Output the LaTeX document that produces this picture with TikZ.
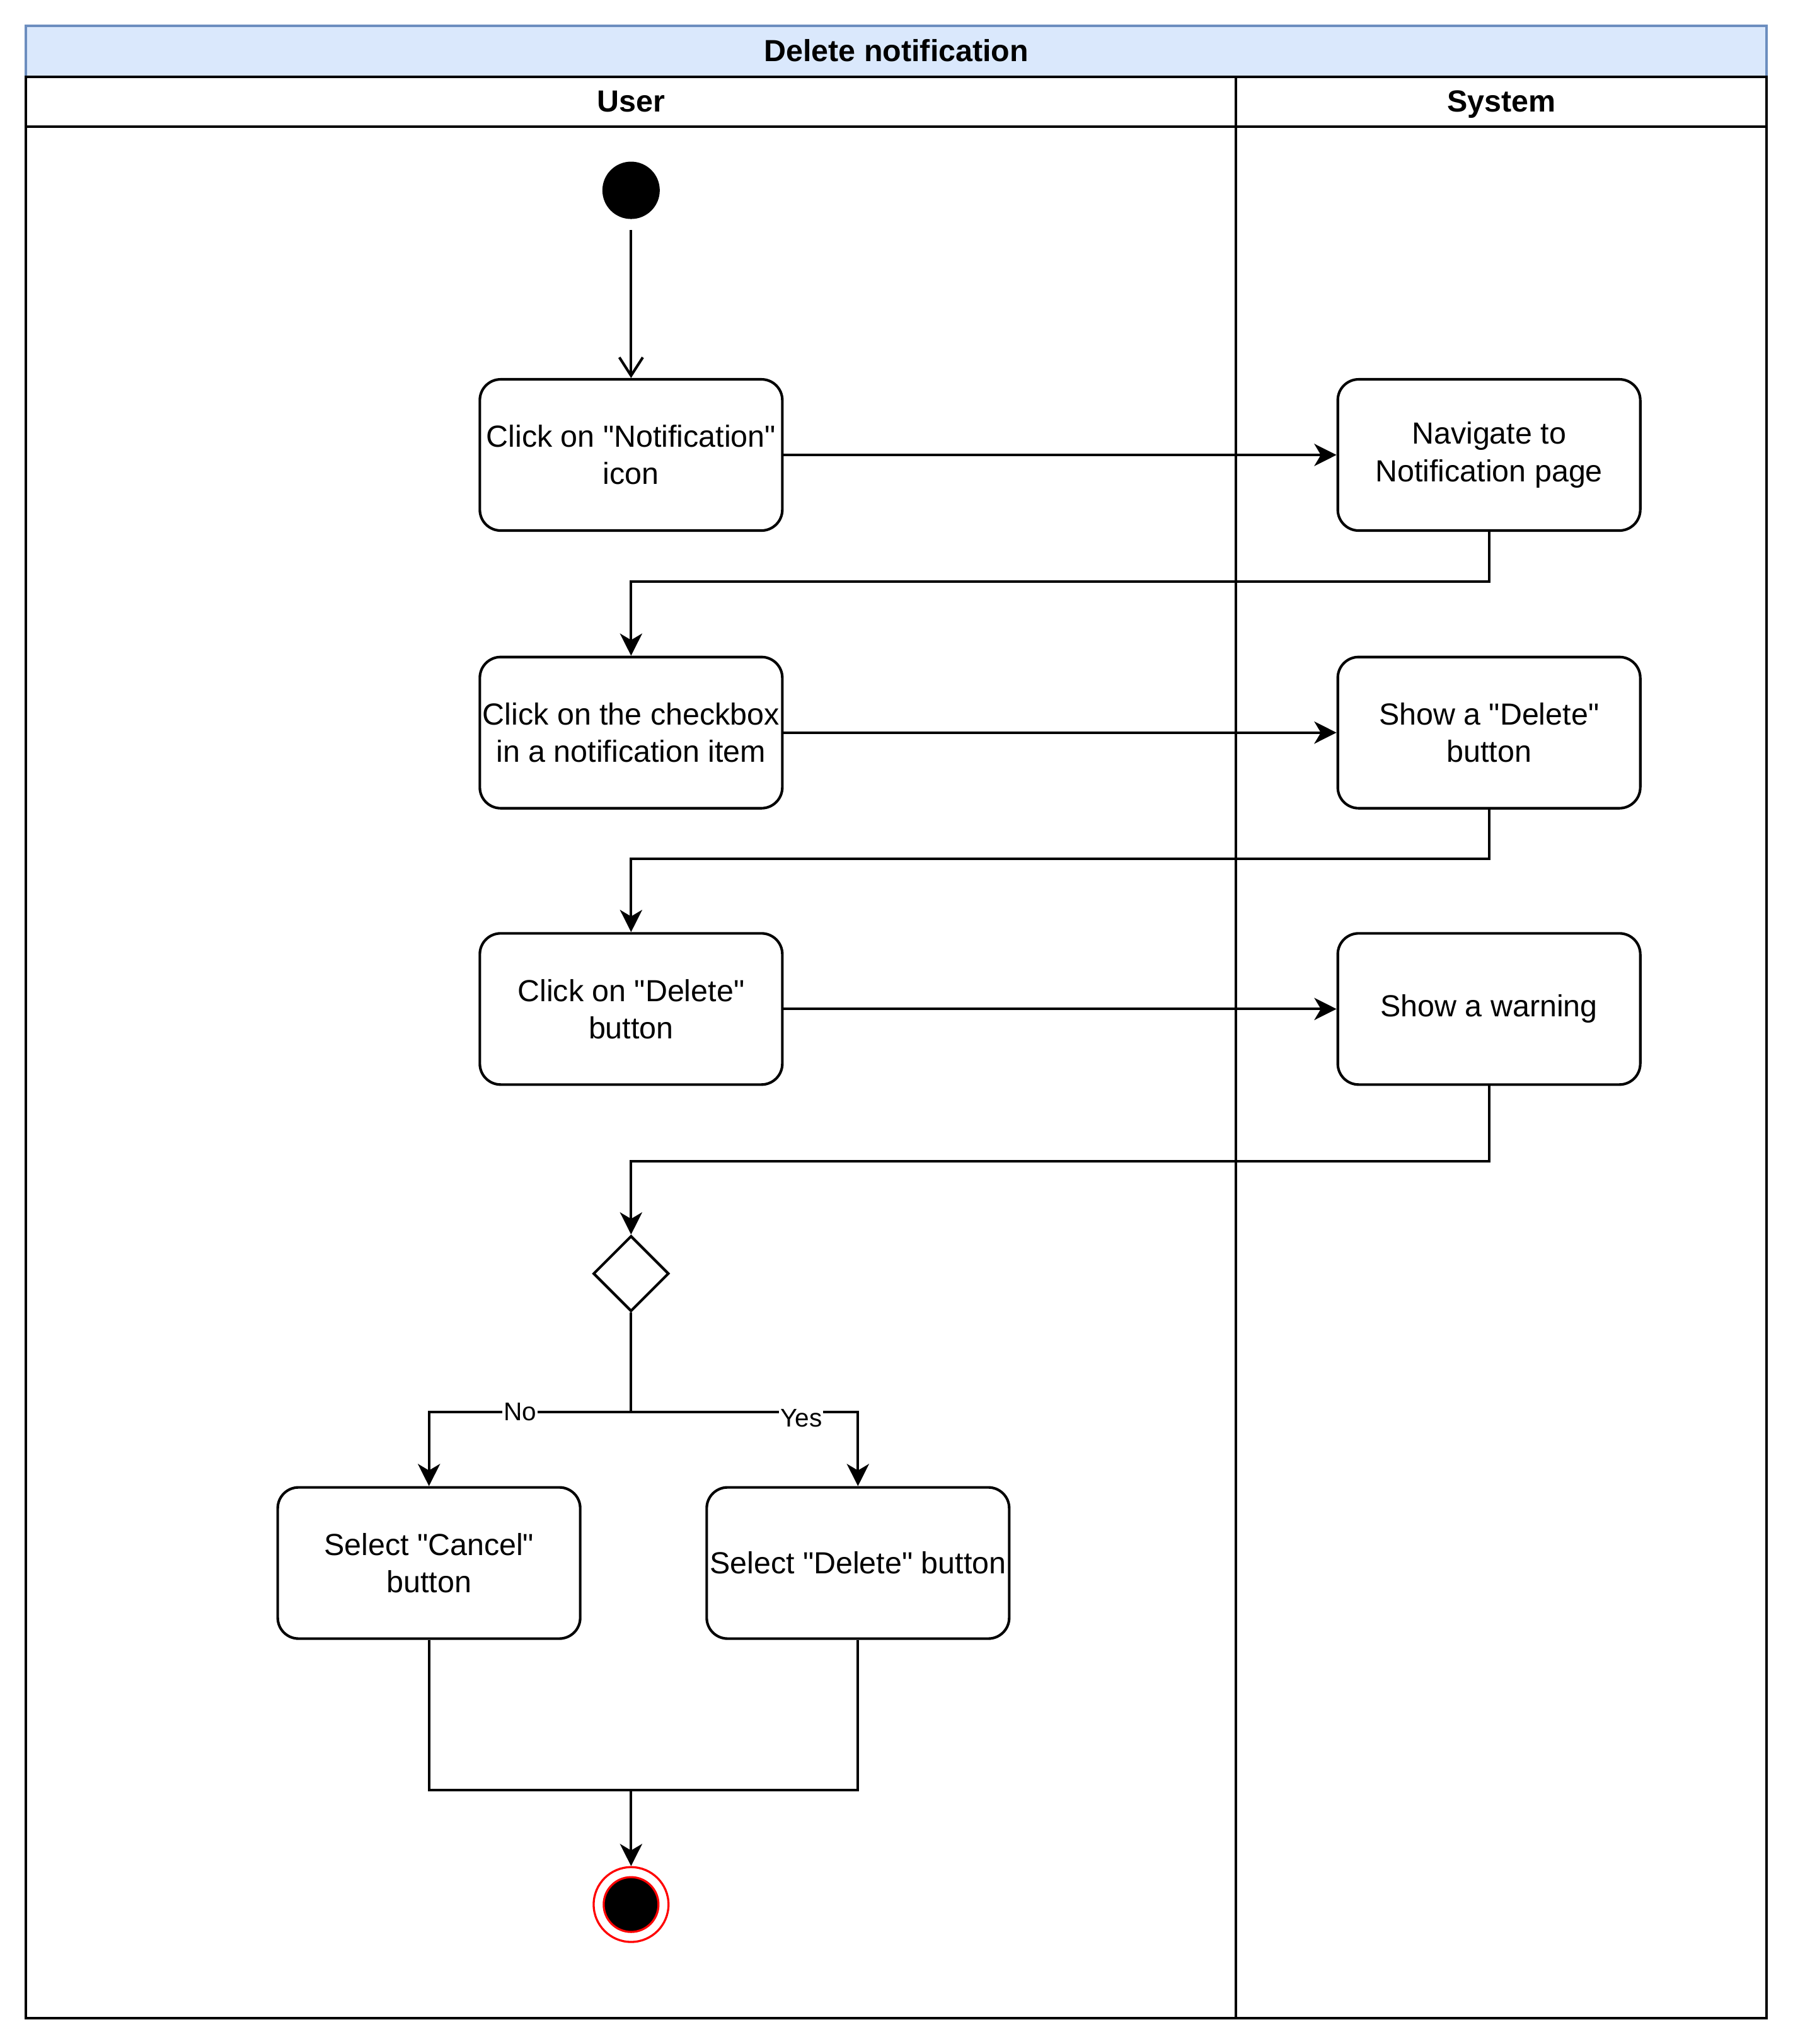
\documentclass[tikz,border=0pt]{standalone}
\usepackage{fontspec}
\setmainfont{Liberation Sans}[Ligatures=TeXOff]
\usetikzlibrary{arrows.meta,shapes.geometric}
\definecolor{titlefill}{HTML}{DAE8FC}
\definecolor{titleline}{HTML}{6C8EBF}

\begin{document}
\begin{tikzpicture}
[x=0.5pt,y=-0.5pt,
  actdecorate/.style={shape=rectangle,rounded corners=8pt,draw,line width=1pt,%
    minimum width=116pt,minimum height=58pt,inner sep=1pt,align=center,%
    font=\fontsize{11.7}{14.3}\selectfont},%
  initdecorate/.style={shape=circle,fill=black,minimum size=22pt,inner sep=0pt},%
  decdecorate/.style={shape=diamond,draw,line width=1pt,minimum width=29pt,%
    minimum height=29pt,inner sep=0pt},%
  lanedecorate/.style={draw,line width=1pt},%
  headdecorate/.style={font=\bfseries\fontsize{11.7}{14}\selectfont,%
    text height=8.4pt,text depth=2.4pt},%
  linedecorate/.style={-{Stealth[length=8.5pt,width=8.5pt,inset=2.5pt]},line width=1pt},%
  opendecorate/.style={-{Straight Barb[length=7pt,width=9pt]},line width=1pt},%
  labeldecorate/.style={fill=white,inner sep=0.5pt,font=\fontsize{9.8}{11}\selectfont}]
\useasboundingbox (0,0) rectangle (1375,1568);
%% pool and lanes
\draw[fill=titlefill,draw=titleline,line width=1pt] (20,20) rectangle (1355,59);
\draw[lanedecorate] (20,59) rectangle (948,1548);
\draw[lanedecorate] (948,59) rectangle (1355,1548);
\draw[lanedecorate] (20,97) -- (1355,97);
\node (pooltitle) at (687.5,41) [headdecorate] {Delete notification};
\node (usertitle) at (484,80) [headdecorate] {User};
\node (systitle) at (1151.5,80) [headdecorate] {System};
%% actions
\foreach \nodename/\x/\y/\nodetext in {
  a1/484/349/{Click on "Notification"\\icon},
  a2/484/562/{Click on the checkbox\\in a notification item},
  a3/484/774/{Click on "Delete"\\button},
  s1/1142/349/{Navigate to\\Notification page},
  s2/1142/562/{Show a "Delete"\\button},
  s3/1142/774/{Show a warning},
  cancel/329/1199/{Select "Cancel"\\button},
  delete/658/1199/{Select "Delete" button}} {
  \node (\nodename) at (\x,\y) [actdecorate] {\nodetext};
}
%% start, decision, end
\node (start) at (484,146) [initdecorate] {};
\node (dec) at (484,977) [decdecorate] {};
\node (finish) at (484,1461) [shape=circle,draw=red,line width=0.8pt,minimum size=28.7pt,inner sep=0pt] {};
\node (finishdot) at (finish) [shape=circle,draw=red,fill=black,line width=0.8pt,minimum size=21pt,inner sep=0pt] {};
\coordinate (split) at (484,1083);
\coordinate (merge) at (484,1373);
%% flows
\draw[opendecorate,shorten <=4pt] (start) -- (a1);
\path
\foreach \startnode/\endnode in {a1/s1, a2/s2, a3/s3}
{
  (\startnode) edge[linedecorate] (\endnode)
};
\foreach \startnode/\endnode/\drop in {s1/a2/38, s2/a3/38, s3/dec/58}
  \draw[linedecorate] (\startnode.south) -- ++(0,\drop) -| (\endnode.north);
\draw[line width=1pt] (dec.south) -- (split);
\draw[linedecorate] (split) -- node[labeldecorate,pos=0.55] {No} (split -| cancel.north) -- (cancel.north);
\draw[linedecorate] (split) -- node[labeldecorate,pos=0.75,yshift=-2.5pt] {Yes} (split -| delete.north) -- (delete.north);
\draw[line width=1pt] (cancel.south) |- (merge);
\draw[line width=1pt] (delete.south) |- (merge);
\draw[linedecorate] (merge) -- (finish.north);
\end{tikzpicture}
\end{document}
